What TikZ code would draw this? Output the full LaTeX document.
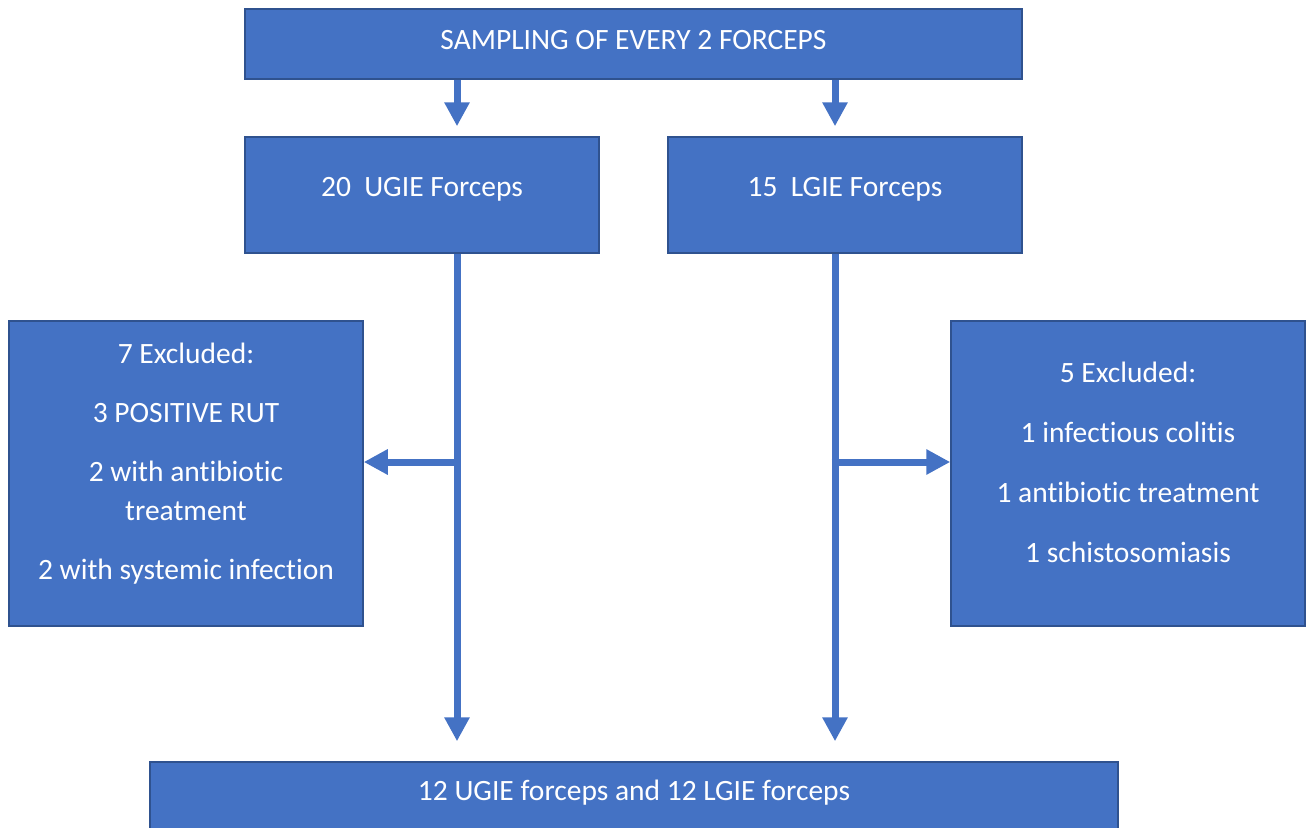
\documentclass[tikz,border=0pt]{standalone}
\usepackage{fontspec}
\setmainfont[Ligatures={NoCommon,NoRare}]{Carlito}
\usetikzlibrary{arrows.meta}
\definecolor{boxfill}{HTML}{4472C4}
\definecolor{boxline}{HTML}{2F528F}
\tikzset{
  box/.style={draw=boxline, line width=1.5pt, fill=boxfill, text=white, inner sep=0pt, align=center, font=\fontsize{29.5}{39}\selectfont, text height=20pt},
  txt/.style={text=white, inner sep=0pt, align=center, font=\fontsize{29.5}{39}\selectfont},
  conn/.style={draw=boxfill, line width=7pt, -{Triangle[width=24pt,length=24pt]}}
}
\begin{document}
\begin{tikzpicture}[x=1pt,y=-1pt]
\useasboundingbox (0,0) rectangle (1313,827);
\node[box, minimum width=777, minimum height=70, text depth=10pt] (top) at (633.5,44) {SAMPLING OF EVERY 2 FORCEPS};
\node[box, minimum width=354, minimum height=116, text depth=18pt] (ugie) at (422,195) {20\ \ UGIE Forceps};
\node[box, minimum width=354, minimum height=116, text depth=18pt] (lgie) at (845,195) {15\ \ LGIE Forceps};
\node[box, minimum width=354, minimum height=305] (exl) at (186,473.5) {};
\node[txt] (exltext) at (186,464) {7 Excluded:\\[20pt]3 POSITIVE RUT\\[20pt]2 with antibiotic\\treatment\\[20pt]2 with systemic infection};
\node[box, minimum width=354, minimum height=305] (exr) at (1128,473.5) {};
\node[txt] (exrtext) at (1128,462) {5 Excluded:\\[21pt]1 infectious colitis\\[21pt]1 antibiotic treatment\\[21pt]1 schistosomiasis};
\node[box, minimum width=968, minimum height=100] (final) at (634,812) {};
\node[txt] (finaltext) at (634,793) {12 UGIE forceps and 12 LGIE forceps};
\coordinate (ul) at (457,462);
\coordinate (lr) at (835,462);
\draw[conn, shorten >=10pt] (top.south -| ul) -- (ugie.north -| ul);
\draw[conn, shorten >=10pt] (top.south -| lr) -- (lgie.north -| lr);
\draw[conn, shorten >=20pt] (ugie.south -| ul) -- (final.north -| ul);
\draw[conn, shorten >=20pt] (lgie.south -| lr) -- (final.north -| lr);
\draw[conn] ([xshift=3.5pt]ul) -- (ul -| exl.east);
\draw[conn] ([xshift=-3.5pt]lr) -- (lr -| exr.west);
\end{tikzpicture}
\end{document}
